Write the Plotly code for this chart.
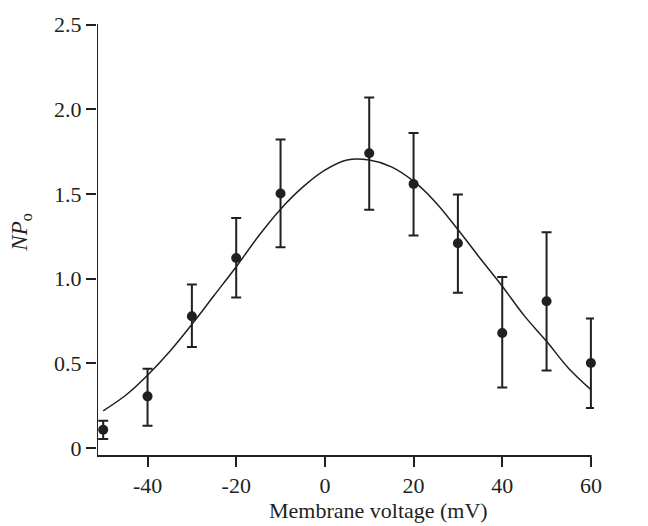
import plotly.graph_objects as go

voltage = [-50, -40, -30, -20, -10, 10, 20, 30, 40, 50, 60]
npo = [0.108, 0.305, 0.778, 1.122, 1.502, 1.740, 1.559, 1.209, 0.679, 0.866, 0.502]
err_upper = [0.053, 0.163, 0.187, 0.236, 0.319, 0.329, 0.301, 0.287, 0.331, 0.408, 0.262]
err_lower = [0.055, 0.173, 0.182, 0.234, 0.317, 0.333, 0.305, 0.292, 0.321, 0.409, 0.266]

fit_v = [-50, -45, -40, -35, -30, -25, -20, -15, -10, -5, 0, 5, 10, 15, 20, 25, 30, 35, 40, 45, 50, 55, 60]
fit_npo = [0.22, 0.31, 0.43, 0.57, 0.73, 0.90, 1.07, 1.25, 1.41, 1.54, 1.64, 1.70, 1.70, 1.66, 1.575, 1.45,
           1.29, 1.12, 0.955, 0.78, 0.63, 0.47, 0.345]

x_ticks = [-40, -20, 0, 20, 40, 60]
x_labels = ["-40", "-20", "0", "20", "40", "60"]
y_ticks = [0, 0.5, 1.0, 1.5, 2.0, 2.5]
y_labels = ["0", "0.5", "1.0", "1.5", "2.0", "2.5"]

ink = "#231f20"
font = "Liberation Serif, Times New Roman, serif"
x_min, x_axis_end, x_max = -51.4, 60, 60.7

fig = go.Figure()
fig.add_trace(go.Scatter(x=fit_v, y=fit_npo, mode="lines", line=dict(color=ink, width=1.5, shape="spline"),
                         hoverinfo="skip", showlegend=False))
fig.add_trace(go.Scatter(
    x=voltage, y=npo, mode="markers",
    marker=dict(color=ink, size=10),
    error_y=dict(type="data", symmetric=False, array=err_upper, arrayminus=err_lower,
                 color=ink, thickness=2, width=5),
    cliponaxis=False, showlegend=False))

fig.update_layout(
    width=648, height=526,
    margin=dict(l=97, r=54, t=21, b=70),
    plot_bgcolor="white", paper_bgcolor="white",
    font=dict(family=font, size=22, color=ink),
    xaxis=dict(range=[x_min, x_max], tickvals=x_ticks, ticktext=x_labels, ticks="outside", ticklen=10,
               tickwidth=2, tickcolor=ink, showline=False, showgrid=False, zeroline=False),
    yaxis=dict(range=[-0.047, 2.503], tickvals=y_ticks, ticktext=y_labels, ticks="outside", ticklen=10,
               tickwidth=2, tickcolor=ink, showline=False, showgrid=False, zeroline=False),
    shapes=[
        dict(type="line", xref="x", yref="paper", x0=x_min - 0.4, x1=x_axis_end + 0.2, y0=0, y1=0,
             line=dict(color=ink, width=2)),
        dict(type="line", xref="x", yref="paper", x0=x_min, x1=x_min, y0=0, y1=1,
             line=dict(color=ink, width=2)),
    ],
    annotations=[
        dict(text="Membrane voltage (mV)", xref="paper", yref="paper", x=0.566, y=-0.125,
             xanchor="center", yanchor="middle", showarrow=False, font=dict(size=22)),
        dict(text="<i>NP</i><sub>o</sub>", xref="paper", yref="paper", x=-0.152, y=0.518,
             xanchor="center", yanchor="middle", showarrow=False, textangle=-90, font=dict(size=23)),
    ],
)

fig.write_html("out.html", config={"displayModeBar": False},
               post_script="document.body.style.margin='0';document.body.style.padding='0';")
